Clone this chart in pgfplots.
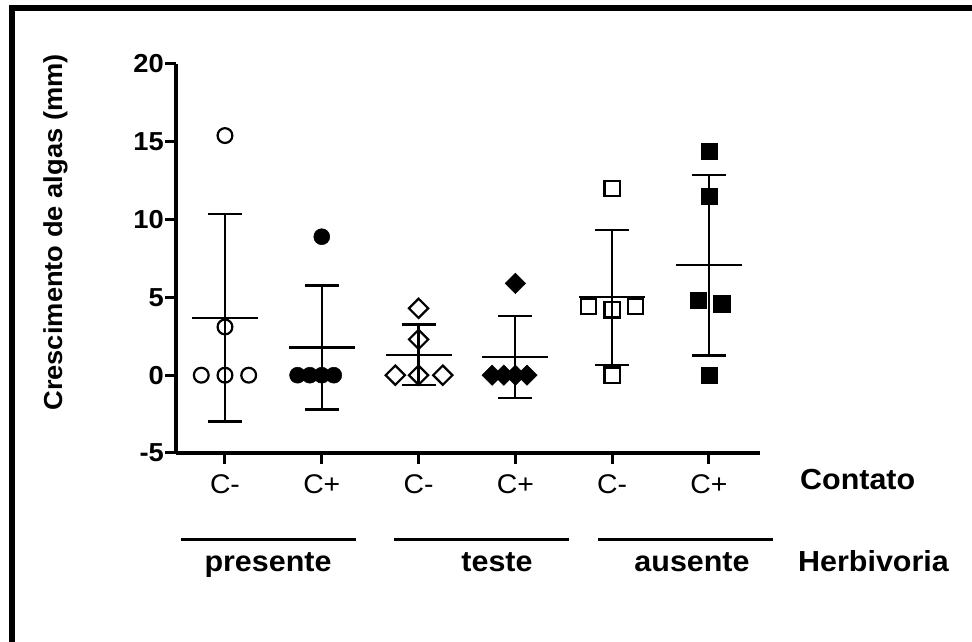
\documentclass[border=0pt]{standalone}
\usepackage{fontspec}
\setmainfont{Liberation Sans}[FakeStretch=1.05]
\usepackage{pgfplots}
\pgfplotsset{compat=1.18}
\begin{document}
\begin{tikzpicture}
\path[use as bounding box] (0bp,0bp) rectangle (972bp,642bp);
\fill[black] (9bp,0bp) rectangle (15bp,637bp);
\fill[black] (9bp,631bp) rectangle (972bp,637bp);
\begin{axis}[
  at={(176bp,189bp)}, anchor=south west,
  scale only axis, width=584bp, height=389bp,
  xmin=-0.506, xmax=5.527, ymin=-5, ymax=20,
  axis x line=bottom, axis y line=left,
  axis line style={line width=4bp, -},
  tick align=outside, major tick length=11bp,
  tick style={line width=3bp, black},
  xtick={0,1,2,3,4,5},
  xticklabels={C-,C+,C-,C+,C-,C+},
  ytick={-5,0,5,10,15,20},
  /pgf/number format/assume math mode=true,
  yticklabel style={font=\fontsize{26bp}{26bp}\selectfont\bfseries, inner sep=1bp},
  xticklabel style={font=\fontsize{27bp}{27bp}\selectfont, inner sep=0bp, anchor=base, yshift=-29bp},
  ylabel={Crescimento de algas (mm)},
  ylabel style={font=\fontsize{26bp}{26bp}\selectfont\bfseries, at={(axis description cs:-0.2055,0.567)}, anchor=center},
  clip=false,
]
% individual points
\addplot[only marks, mark=o, mark size=7.4bp, mark options={line width=2.2bp, black}] coordinates {
  (-0.245,0) (0,0) (0.245,0) (0,3.1) (0,15.4)};
\addplot[only marks, mark=*, mark size=8bp, mark options={line width=0.5bp, black, fill=black}] coordinates {
  (0.75,0) (0.876,0) (1,0) (1.124,0) (1,8.9)};
\addplot[only marks, mark=square, mark size=6.8bp, mark options={rotate=45, line width=2.2bp, black}] coordinates {
  (1.76,0) (2,0) (2.25,0) (2,2.3) (2,4.3)};
\addplot[only marks, mark=square*, mark size=7.2bp, mark options={rotate=45, line width=0.5bp, black, fill=black}] coordinates {
  (2.76,0) (2.88,0) (3,0) (3.12,0) (3,5.9)};
\addplot[only marks, mark=square, mark size=7.6bp, mark options={line width=2.2bp, black}] coordinates {
  (3.755,4.4) (4,4.2) (4.24,4.4) (4,12.0) (4,0)};
\addplot[only marks, mark=square*, mark size=8.2bp, mark options={line width=0.5bp, black, fill=black}] coordinates {
  (4.89,4.8) (5.13,4.6) (5,11.5) (5,14.4) (5,0)};
% mean +- SD
\addplot[draw=none, mark=none,
  error bars/.cd, y dir=both, y explicit, error mark=|,
  error bar style={line width=2.2bp, black},
  error mark options={mark size=17bp, line width=2.2bp, black}]
  coordinates {
  (0,3.70) +- (0,6.68)
  (1,1.78) +- (0,3.98)
  (2,1.32) +- (0,1.94)
  (3,1.18) +- (0,2.64)
  (4,5.00) +- (0,4.34)
  (5,7.06) +- (0,5.80)};
\addplot[only marks, mark=-, mark size=33bp, mark options={line width=2.2bp, black}] coordinates {
  (0,3.70) (1,1.78) (2,1.32) (3,1.18) (4,5.00) (5,7.06)};
\end{axis}
% group annotations
\draw[line width=3bp] (181bp,102bp) -- (356bp,102bp);
\draw[line width=3bp] (394bp,102bp) -- (569bp,102bp);
\draw[line width=3bp] (598bp,102bp) -- (773bp,102bp);
\begin{scope}[every node/.style={font=\fontsize{29bp}{29bp}\selectfont\bfseries, inner sep=0pt}]
\node[anchor=base] at (268bp,70bp) {presente};
\node[anchor=base] at (497bp,70bp) {teste};
\node[anchor=base] at (692bp,70bp) {ausente};
\node[anchor=base west] at (798bp,70bp) {Herbivoria};
\node[anchor=base west] at (800bp,152bp) {Contato};
\end{scope}
\end{tikzpicture}
\end{document}
